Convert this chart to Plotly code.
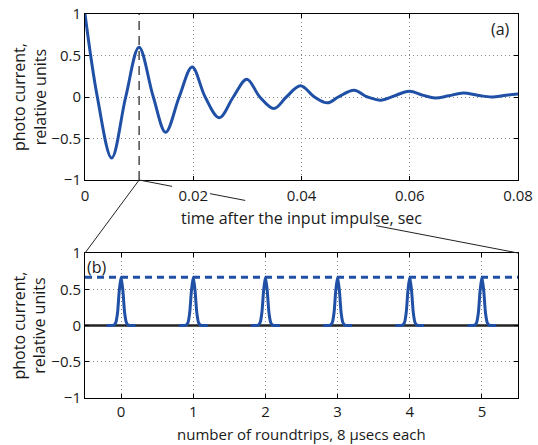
import plotly.graph_objects as go

# ---- data ----
# (a) impulse response: time (s) and photo current (relative units)
t_sec = [0.0, 0.00228, 0.00493, 0.00752, 0.00998, 0.01262, 0.0149, 0.0174, 0.0198,
         0.0222, 0.0248, 0.0274, 0.0299, 0.0323, 0.0349, 0.0372, 0.0398, 0.0424,
         0.0448, 0.0468, 0.0497, 0.0522, 0.0547, 0.0570, 0.0599, 0.0625, 0.0647,
         0.0672, 0.0699, 0.0725, 0.0751, 0.0778, 0.0800]
current_a = [1.0, 0.0, -0.735, 0.0, 0.60, 0.0, -0.425, 0.0, 0.36,
             0.0, -0.25, 0.0, 0.215, 0.0, -0.14, 0.0, 0.135, 0.0,
             -0.07, 0.0, 0.08, 0.0, -0.038, 0.01, 0.07, 0.02, -0.012,
             0.015, 0.048, 0.022, 0.0, 0.022, 0.036]
zoom_time = 0.01          # instant marked by the dashed line

# (b) pulse train: roundtrip index, pulse shape (offset, value)
roundtrips = [0, 1, 2, 3, 4, 5]
pulse_offset = [-0.2, -0.1, -0.075, -0.05, -0.025, 0.0, 0.025, 0.05, 0.075, 0.1, 0.2]
pulse_value = [0.0, 0.005, 0.035, 0.17, 0.48, 0.665, 0.48, 0.17, 0.035, 0.005, 0.0]
pulse_peak = max(pulse_value)

xrange_a = [0, 0.08]
xrange_b = [-0.5, 5.5]
yrange = [-1, 1]
xticks_a = [0, 0.02, 0.04, 0.06, 0.08]
xticklabels_a = ["0", "0.02", "0.04", "0.06", "0.08"]
xticks_b = [0, 1, 2, 3, 4, 5]
yticks = [-1, -0.5, 0, 0.5, 1]
yticklabels = ["\u22121", "\u22120.5", "0", "0.5", "1"]

BLUE = "#1F50A6"
FONT = "Open Sans"
TXT = "#1a1a1a"

fig = go.Figure()
fig.add_trace(go.Scatter(x=t_sec, y=current_a, mode="lines",
                         line=dict(color=BLUE, width=3, shape="spline", smoothing=1.0),
                         xaxis="x", yaxis="y", showlegend=False, hoverinfo="skip"))

# zero baseline of (b)
fig.add_trace(go.Scatter(x=xrange_b, y=[0, 0], mode="lines",
                         line=dict(color="#222222", width=2.5),
                         xaxis="x2", yaxis="y2", showlegend=False, hoverinfo="skip"))

for n in roundtrips:
    fig.add_trace(go.Scatter(x=[n + o for o in pulse_offset], y=pulse_value, mode="lines",
                             line=dict(color=BLUE, width=3, shape="spline", smoothing=0.8),
                             xaxis="x2", yaxis="y2", showlegend=False, hoverinfo="skip"))

# peak envelope of (b)
fig.add_trace(go.Scatter(x=xrange_b, y=[pulse_peak, pulse_peak], mode="lines",
                         line=dict(color=BLUE, width=3, dash="7px,5px"),
                         xaxis="x2", yaxis="y2", showlegend=False, hoverinfo="skip",
                         cliponaxis=False))

dom_a = [0.5677, 1.0]
dom_b = [0.0, 0.3776]

axis_common = dict(showline=True, linecolor="black", linewidth=1, mirror="ticks",
                   ticks="inside", ticklen=4, tickcolor="black", tickwidth=1,
                   showgrid=True, gridcolor="#8a8a8a", gridwidth=1, griddash="1px,3px",
                   zeroline=False, automargin=False,
                   tickfont=dict(family=FONT, size=15, color=TXT))

fig.update_layout(
    width=538, height=445,
    margin=dict(l=85, r=20, t=14, b=47),
    paper_bgcolor="white", plot_bgcolor="white",
    font=dict(family=FONT, size=16, color=TXT),
    xaxis=dict(axis_common, domain=[0, 1], range=xrange_a, tickvals=xticks_a,
               ticktext=xticklabels_a, anchor="y", ticklabelstandoff=2),
    yaxis=dict(axis_common, domain=dom_a, range=yrange, tickvals=yticks,
               ticktext=yticklabels, anchor="x"),
    xaxis2=dict(axis_common, domain=[0, 1], range=xrange_b, tickvals=xticks_b,
                anchor="y2", ticklabelstandoff=0),
    yaxis2=dict(axis_common, domain=dom_b, range=yrange, tickvals=yticks,
                ticktext=yticklabels, anchor="x2"),
)

# dashed marker in (a)
fig.add_shape(type="line", xref="x", yref="y domain", x0=zoom_time, x1=zoom_time, y0=0, y1=1,
              line=dict(color="#555555", width=1.6, dash="9px,6px"), layer="above")

# zoom connector lines (broken where labels sit)
ya, yb = dom_a[0], dom_b[1]
fig.add_shape(type="line", xref="x", yref="paper", x0=zoom_time, y0=ya, x1=xrange_a[0], y1=yb,
              line=dict(color="#222222", width=1))
def y_on(t):
    return ya + (yb - ya) * (t - zoom_time) / (xrange_a[1] - zoom_time)
for t0, t1 in [(zoom_time, 0.0161), (0.0231, 0.0296), (0.0538, xrange_a[1])]:
    fig.add_shape(type="line", xref="x", yref="paper", x0=t0, y0=y_on(t0), x1=t1, y1=y_on(t1),
                  line=dict(color="#222222", width=1))

# axis titles
fig.add_annotation(text="time after the input impulse, sec", xref="paper", yref="paper",
                   x=0.5, y=0.4688, xanchor="center", yanchor="middle", showarrow=False,
                   borderpad=0, font=dict(family=FONT, size=16, color=TXT))
fig.add_annotation(text="number of roundtrips, 8 \u03bcsecs each", xref="paper", yref="paper",
                   x=0.5, y=-0.1224, xanchor="center", yanchor="bottom", showarrow=False,
                   borderpad=0, font=dict(family=FONT, size=15, color=TXT))
for dom in (dom_a, dom_b):
    fig.add_annotation(text="photo current,<br>relative units", xref="paper", yref="paper",
                       x=-0.1293, y=(dom[0] + dom[1]) / 2, xanchor="center", yanchor="middle",
                       textangle=-90, showarrow=False,
                       font=dict(family=FONT, size=16, color=TXT))

fig.add_annotation(text="(a)", xref="x domain", yref="y domain", x=0.9607, y=0.9096,
                   xanchor="center", yanchor="middle",
                   showarrow=False, font=dict(family=FONT, size=16, color=TXT))
fig.add_annotation(text="(b)", xref="x2 domain", yref="y2 domain", x=0.0277, y=0.9007,
                   xanchor="center", yanchor="middle",
                   showarrow=False, font=dict(family=FONT, size=16, color=TXT))

fig.write_html("out.html")
